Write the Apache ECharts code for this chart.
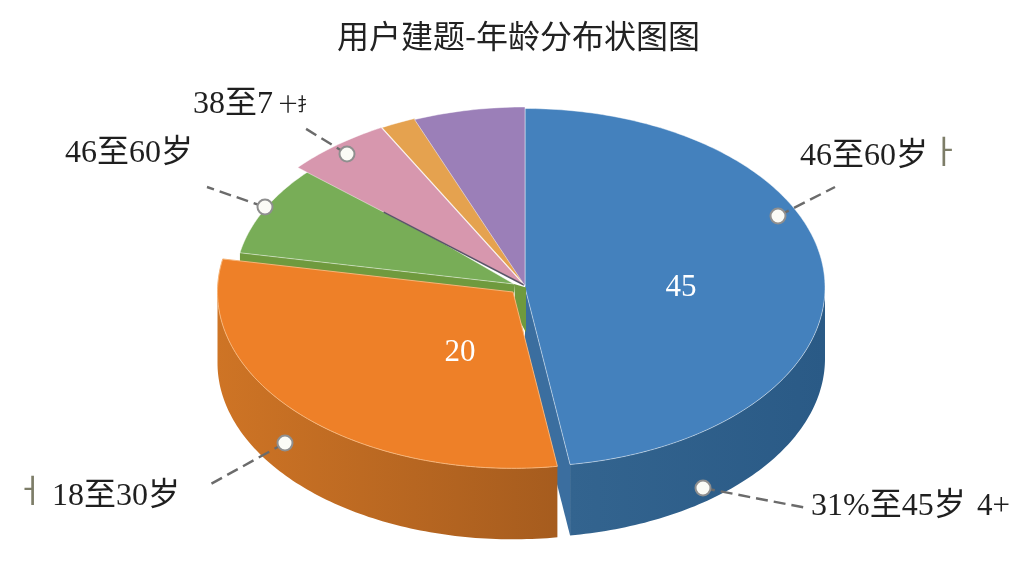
<!DOCTYPE html>
<html><head><meta charset="utf-8">
<style>html,body{margin:0;padding:0;background:#fff}#c{width:1024px;height:576px}</style>
<script src="https://cdn.jsdelivr.net/npm/echarts@6/dist/echarts.min.js"></script>
</head><body><div id="c"></div>
<script>
var titleText = '用户建题-年龄分布状图图';
var sliceNames = ['31%至45岁', '18至30岁', '46至60岁', '38至7', '其他A', '其他B'];
var sliceShares = [47.6, 30.4, 8.4, 5.7, 1.9, 6.0];
var sliceValueLabels = ['45', '20', '', '', '', ''];
var calloutTexts = ['46至60岁', '46至60岁', '38至7', '18至30岁', '31%至45岁'];

// ---- layout and style, separate from the data
var RX = 300, RY = 179, DEPTH = 71;
var sliceLayout = [
  {cx:525,cy:287.5,scale:1,   top:'#4481BD',wall:['#33648F','#2A5A86'],cut:'#3B6E9F',z:10,cuts:[0,1]},
  {cx:513,cy:292,  scale:.985,top:'#EE8028',wall:['#CE7425','#A65C1E'],cut:'#B5651F',z:40,edge:'#F6B478',cuts:[0,0]},
  {cx:514,cy:284,  scale:.93, top:'#78AD57',wall:['#6F9A3E','#6F9A3E'],cut:'#6F9A3E',z:20,cuts:[1,0],tuck:3},
  {cx:524,cy:285,  scale:1,   top:'#D797AE',wall:['#B57C90','#B57C90'],cut:'#55506A',z:24,cuts:[0,0],seam:'#5A5568'},
  {cx:525,cy:285,  scale:1,   top:'#E5A24F',wall:['#C08540','#C08540'],cut:'#C08540',z:26,cuts:[0,0]},
  {cx:525,cy:286,  scale:1,   top:'#9B7FB8',wall:['#7E669A','#7E669A'],cut:'#7E669A',z:28,cuts:[0,0]}
];
var valueLabelAt = [[681,288],[460,353]];
var callouts = [
  {dot:[778,216],end:[835,187]},
  {dot:[265,207],end:[207,187]},
  {dot:[347,154],end:[303,127]},
  {dot:[285,443],end:[209,485]},
  {dot:[703,488],end:[807,508]}
];
var calloutLabels = [
  {x:800,y:157,fs:32,t:calloutTexts[0]},
  {x:65, y:154,fs:32,t:calloutTexts[1]},
  {x:193,y:105,fs:32,t:calloutTexts[2]},
  {x:52, y:497,fs:32,t:calloutTexts[3]},
  {x:811,y:507,fs:32,t:calloutTexts[4]},
  {x:977,y:507,fs:31,t:'4+'},
  {x:279,y:106,fs:18,t:'十扌'},
  {x:930,y:155,fs:32,t:'ㅏ',c:'#7d7d68'},
  {x:15, y:494,fs:32,t:'ㅓ',c:'#7d7d68'}
];
var SERIF = '"Liberation Serif","Noto Sans CJK SC",serif';

var total = sliceShares.reduce(function(a,b){return a+b;},0);
var starts = [], acc = 0;
sliceShares.forEach(function(v){ starts.push(acc/total*360); acc += v; });

function pt(l, deg, dy){
  var r = deg*Math.PI/180;
  return [l.cx + RX*l.scale*Math.sin(r), l.cy - RY*l.scale*Math.cos(r) + (dy||0)];
}
function arc(l, a, b, dy){
  var out = [], n = Math.max(2, Math.ceil(Math.abs(b-a)));
  for (var i=0;i<=n;i++) out.push(pt(l, a+(b-a)*i/n, dy));
  return out;
}
function poly(points, fill, z, stroke, lw){
  return {type:'polygon', z2:z, shape:{points:points},
    style:{fill:fill, stroke:stroke||null, lineWidth:lw||0}};
}
function renderSlice(params, api){
  var i = api.value(0), l = sliceLayout[i];
  var a = starts[i], b = a + sliceShares[i]/total*360;
  var kids = [], c = [l.cx,l.cy], cd = [l.cx,l.cy+DEPTH];
  // radial cut walls
  [a,b].forEach(function(ang,k){
    if (!l.cuts[k]) return;
    kids.push(poly([c,pt(l,ang),pt(l,ang,DEPTH),cd], l.cut, l.z));
  });
  // outer wall: only the part facing the viewer
  var wa = Math.max(a,90), wb = Math.min(b,270);
  if (wb > wa) {
    var pts = arc(l,wa,wb,0).concat(arc(l,wb,wa,DEPTH));
    kids.push(poly(pts, new echarts.graphic.LinearGradient(
      wa<100?1:0,0,wa<100?0:1,0,
      [{offset:0,color:l.wall[wa<100?1:0]},{offset:1,color:l.wall[wa<100?0:1]}]), l.z+1));
  }
  // core joint of the green slice, between its apex and the blue apex
  if (i === 2) {
    var bl = sliceLayout[0];
    kids.push(poly([c,[bl.cx+1,bl.cy],[bl.cx+1,bl.cy+45],[l.cx+2,l.cy+30]], l.cut, 15));
  }
  // top face (tuck slides the far edge slightly under the next slice)
  kids.push(poly([c].concat(arc(l,a,b+(l.tuck||0),0)), l.top, l.z+2,
    l.edge || 'rgba(255,255,255,0.45)', 1));
  if (l.seam) {
    var s = pt(l,a);
    var m = [c[0]+(s[0]-c[0])*0.62, c[1]+(s[1]-c[1])*0.62];
    kids.push({type:'line', z2:l.z+3, shape:{x1:c[0],y1:c[1],x2:m[0],y2:m[1]},
      style:{stroke:l.seam,lineWidth:1.5}});
  }
  return {type:'group', children:kids};
}

var gfx = [];
callouts.forEach(function(k){
  gfx.push({type:'line', z:50, shape:{x1:k.dot[0],y1:k.dot[1],x2:k.end[0],y2:k.end[1]},
    style:{stroke:'#6b6b6b',lineWidth:2.4,lineDash:[12,6]}});
  gfx.push({type:'circle', z:51, shape:{cx:k.dot[0],cy:k.dot[1],r:7.5},
    style:{fill:'#fbfbf6',stroke:'#8f8f8f',lineWidth:2}});
});
calloutLabels.forEach(function(t){
  gfx.push({type:'text', z:52, x:t.x, y:t.y, style:{text:t.t, fill:t.c||'#1f1f1f',
    font:'400 '+t.fs+'px '+SERIF, verticalAlign:'middle', align:'left'}});
});
sliceValueLabels.forEach(function(s,i){
  if (!s) return;
  var p = valueLabelAt[i];
  gfx.push({type:'text', z:52, x:p[0], y:p[1], style:{text:s, fill:'#fff',
    font:'400 31px '+SERIF, align:'center', verticalAlign:'middle'}});
});

var chart = echarts.init(document.getElementById('c'), null, {renderer:'canvas'});
chart.setOption({
  animation:false,
  backgroundColor:'#fff',
  title:{text:titleText, left:332, top:15,
    textStyle:{fontFamily:'"Noto Sans CJK SC"',fontSize:32,fontWeight:400,color:'#222'}},
  series:[{type:'custom', coordinateSystem:'none', silent:true,
    data:sliceShares.map(function(v,i){return {name:sliceNames[i],value:[i,v]};}),
    renderItem:renderSlice}],
  graphic:gfx
});
</script></body></html>
